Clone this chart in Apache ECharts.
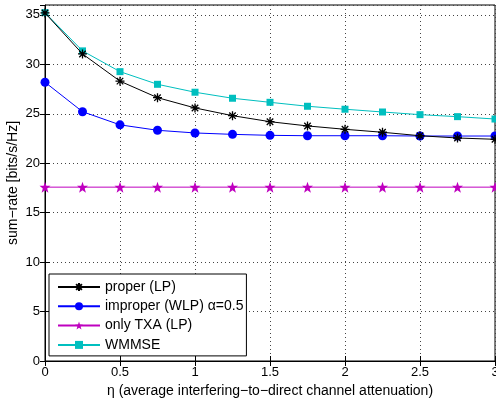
<!DOCTYPE html>
<html>
<head>
<meta charset="utf-8">
<script src="https://cdn.jsdelivr.net/npm/echarts@6/dist/echarts.min.js"></script>
<style>
  html, body { margin: 0; padding: 0; background: #fff; }
  #chart { width: 496px; height: 402px; }
</style>
</head>
<body>
<div id="chart"></div>
<script>
// Channel attenuation eta (x) and sum-rate per scheme [bits/s/Hz]
const eta = [0, 0.25, 0.5, 0.75, 1, 1.25, 1.5, 1.75, 2, 2.25, 2.5, 2.75, 3];
const properLP = [35.2, 31.05, 28.3, 26.63, 25.59, 24.81, 24.2, 23.77, 23.43, 23.13, 22.78, 22.55, 22.42];
const improperWLP = [28.19, 25.21, 23.88, 23.33, 23.06, 22.92, 22.82, 22.78, 22.78, 22.78, 22.75, 22.75, 22.75];
const onlyTXA = [17.58, 17.58, 17.58, 17.58, 17.58, 17.58, 17.58, 17.58, 17.58, 17.58, 17.58, 17.58, 17.58];
const wmmse = [35.23, 31.36, 29.26, 27.98, 27.18, 26.57, 26.16, 25.76, 25.46, 25.18, 24.91, 24.71, 24.47];

const seriesNames = ['proper (LP)', 'improper (WLP) \u03b1=0.5', 'only TXA (LP)', 'WMMSE'];
const xTicks = [0, 0.5, 1, 1.5, 2, 2.5, 3];
const yTicks = [0, 5, 10, 15, 20, 25, 30, 35];

const FONT = 'Liberation Sans, Arial, Helvetica, sans-serif';

const asterisk = 'path://M0,-5L0,5M-5,0L5,0M-3.6,-3.6L3.6,3.6M-3.6,3.6L3.6,-3.6';
const pentagram = 'path://M0,-10L2.35,-3.24L9.51,-3.09L3.8,1.24L5.88,8.09L0,4L-5.88,8.09L-3.8,1.24L-9.51,-3.09L-2.35,-3.24Z';

function pair(xs, ys) { return xs.map((x, i) => [x, ys[i]]); }

const chart = echarts.init(document.getElementById('chart'), null, { renderer: 'canvas' });

const gridLine = { show: true, lineStyle: { color: '#444', type: [1, 3], width: 1 } };

chart.setOption({
  animation: false,
  backgroundColor: '#fff',
  grid: {
    left: 45, right: 1, top: 5, bottom: 41,
    outerBoundsMode: 'none', containLabel: false,
    show: true, borderColor: '#000', borderWidth: 1, backgroundColor: 'transparent'
  },
  legend: {
    orient: 'vertical',
    left: 49,
    top: 274,
    backgroundColor: '#fff',
    borderColor: '#000',
    borderWidth: 1,
    padding: [6, 3, 4, 8],
    itemWidth: 42,
    itemHeight: 10,
    itemGap: 5.3,
    textStyle: { fontFamily: FONT, fontSize: 14, color: '#000' },
    data: seriesNames
  },
  xAxis: [{
    type: 'value', min: 0, max: 3, interval: 0.5,
    name: '\u03b7 (average interfering\u2212to\u2212direct channel attenuation)',
    nameLocation: 'middle', nameGap: 19,
    nameTextStyle: { fontFamily: FONT, fontSize: 14, color: '#000' },
    axisLine: { show: true, lineStyle: { color: '#000', width: 1 } },
    axisTick: { show: true, inside: true, length: 5, lineStyle: { color: '#000' } },
    axisLabel: { fontFamily: FONT, fontSize: 13, color: '#000', margin: 5,
      formatter: v => xTicks.includes(v) ? String(v) : '' },
    splitLine: gridLine
  }, {
    type: 'value', min: 0, max: 3, interval: 0.5, position: 'top',
    axisLine: { show: false },
    axisTick: { show: true, inside: true, length: 5, lineStyle: { color: '#000' } },
    axisLabel: { show: false }, splitLine: { show: false }
  }],
  yAxis: [{
    type: 'value', min: 0, max: 36, interval: 5,
    name: 'sum\u2212rate [bits/s/Hz]',
    nameLocation: 'middle', nameGap: 25, nameMoveOverlap: false,
    nameTextStyle: { fontFamily: FONT, fontSize: 14, color: '#000' },
    axisLine: { show: true, lineStyle: { color: '#000', width: 1 } },
    axisTick: { show: true, inside: true, length: 5, lineStyle: { color: '#000' } },
    axisLabel: { fontFamily: FONT, fontSize: 13, color: '#000', margin: 5, showMaxLabel: false,
      formatter: v => yTicks.includes(v) ? String(v) : '' },
    splitLine: gridLine
  }, {
    type: 'value', min: 0, max: 36, interval: 5, position: 'right',
    axisLine: { show: false },
    axisTick: { show: true, inside: true, length: 5, lineStyle: { color: '#000' } },
    axisLabel: { show: false }, splitLine: { show: false }
  }],
  series: [{
    name: seriesNames[0], type: 'line', data: pair(eta, properLP),
    symbol: asterisk, symbolSize: 9,
    lineStyle: { color: '#000', width: 1 },
    itemStyle: { color: '#000', borderColor: '#000', borderWidth: 1.3 },
    z: 4
  }, {
    name: seriesNames[1], type: 'line', data: pair(eta, improperWLP),
    symbol: 'circle', symbolSize: 9,
    lineStyle: { color: '#0000ff', width: 1 },
    itemStyle: { color: '#0000ff', borderColor: '#0000ff', borderWidth: 0 },
    z: 3
  }, {
    name: seriesNames[2], type: 'line', data: pair(eta, onlyTXA),
    symbol: pentagram, symbolSize: 11,
    lineStyle: { color: '#bf00bf', width: 1 },
    itemStyle: { color: '#bf00bf', borderColor: '#bf00bf', borderWidth: 0 },
    z: 3
  }, {
    name: seriesNames[3], type: 'line', data: pair(eta, wmmse),
    symbol: 'rect', symbolSize: 7,
    lineStyle: { color: '#00bfbf', width: 1 },
    itemStyle: { color: '#00bfbf', borderColor: '#00bfbf', borderWidth: 0 },
    z: 3
  }]
});
</script>
</body>
</html>
